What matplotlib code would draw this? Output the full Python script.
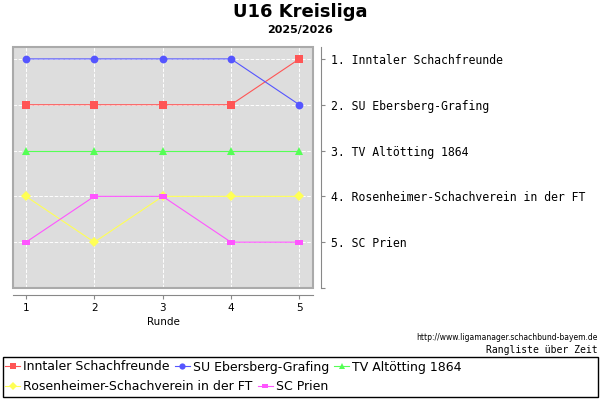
import matplotlib
matplotlib.use('Agg')
import matplotlib.pyplot as plt
from matplotlib.patches import Rectangle

# Daten
runden = [1, 2, 3, 4, 5]
teams = ['Inntaler Schachfreunde', 'SU Ebersberg-Grafing', 'TV Altötting 1864',
         'Rosenheimer-Schachverein in der FT', 'SC Prien']
inntaler = [2, 2, 2, 2, 1]
ebersberg = [1, 1, 1, 1, 2]
altoetting = [3, 3, 3, 3, 3]
rosenheim = [4, 5, 4, 4, 4]
prien = [5, 4, 4, 5, 5]
endstand = ['1. Inntaler Schachfreunde', '2. SU Ebersberg-Grafing', '3. TV Altötting 1864',
            '4. Rosenheimer-Schachverein in der FT', '5. SC Prien', '']

farben = ['#ff5555', '#5555ff', '#55ff55', '#ffff55', '#ff55ff']
rechteck = [(-1, -0.6), (1, -0.6), (1, 0.6), (-1, 0.6)]
marker = ['s', 'o', '^', 'D', rechteck]
msize = [5.2, 5.6, 6.2, 4.8, 6]

W, H = 600, 400
fig = plt.figure(figsize=(6, 4), dpi=100)

def box(l, t, r, b):
    return [l / W, 1 - b / H, (r - l) / W, (b - t) / H]

ax = fig.add_axes(box(13, 47, 313, 288))
ax.set_facecolor('#dddddd')

reihen = [inntaler, ebersberg, altoetting, rosenheim, prien]
handles = []
for i, werte in enumerate(reihen):
    h, = ax.plot(runden, werte, color=farben[i], lw=0.8, marker=marker[i],
                 ms=msize[i], mec=farben[i], mew=0)
    handles.append(h)

ax.set_xlim(0.81, 5.2)
ax.set_ylim(6.0, 0.74)
ax.grid(True, color='white', ls='--', lw=0.7)
ax.set_axisbelow(True)

for s in ['left', 'top']:
    ax.spines[s].set_visible(False)
ax.spines['bottom'].set_position(('outward', 5))
ax.spines['right'].set_position(('outward', 6))
ax.spines['bottom'].set_color('#888888')
ax.spines['right'].set_color('#888888')
ax.add_patch(Rectangle((0, 0), 1, 1, transform=ax.transAxes, fill=False,
                       ec='#aaaaaa', lw=1.5, clip_on=False, zorder=5))

ax.set_xticks(runden)
ax.set_xticklabels([str(r) for r in runden], fontsize=7.5)
ax.tick_params(axis='x', length=3, color='#888888', pad=3)
ax.set_xlabel('Runde', fontsize=7.5, labelpad=3)
ax.yaxis.tick_right()
ax.set_yticks([1, 2, 3, 4, 5, 6])
ax.set_yticklabels(endstand, family='DejaVu Sans Mono', fontsize=8.3)
ax.tick_params(axis='y', length=3, color='#888888', pad=4)

fig.text(0.5, 1 - 12 / H, 'U16 Kreisliga', ha='center', va='center', fontsize=13, fontweight='bold')
fig.text(0.5, 1 - 30 / H, '2025/2026', ha='center', va='center', fontsize=8, fontweight='bold')
fig.text(598 / W, 1 - 338 / H, 'http://www.ligamanager.schachbund-bayem.de', ha='right', va='center', fontsize=5.5)
fig.text(598 / W, 1 - 350 / H, 'Rangliste über Zeit', ha='right', va='center',
         family='DejaVu Sans Mono', fontsize=7)

fig.patches.append(Rectangle((3 / W, 1 - 397 / H), 595 / W, 40 / H, transform=fig.transFigure,
                             fill=False, ec='black', lw=1))
legende = dict(frameon=False, fontsize=9, handlelength=1.2, handletextpad=0.25,
               columnspacing=0.4, borderaxespad=0, borderpad=0, markerscale=0.8)
fig.legend(handles[:3], teams[:3], loc='center left', bbox_to_anchor=(5 / W, 1 - 367 / H),
           ncol=3, **legende)
fig.legend(handles[3:], teams[3:], loc='center left', bbox_to_anchor=(5 / W, 1 - 387 / H),
           ncol=2, **legende)

fig.savefig('out.png', dpi=100)
